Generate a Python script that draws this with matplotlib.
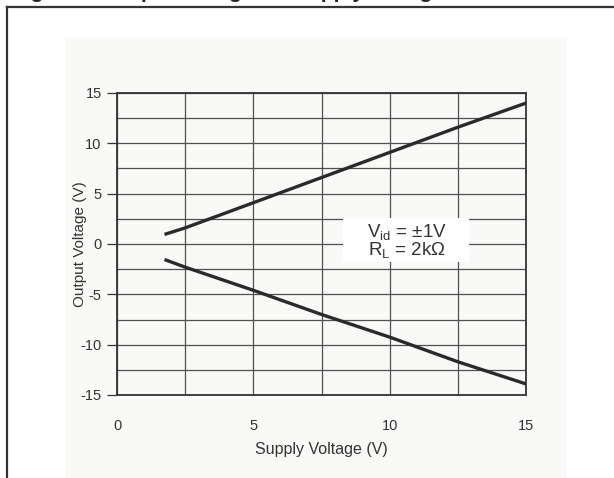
import matplotlib
matplotlib.use("Agg")
import matplotlib.pyplot as plt
from matplotlib.patches import Rectangle
from matplotlib.lines import Line2D
import numpy as np

plt.rcParams['font.family'] = ['Liberation Sans', 'DejaVu Sans']
plt.rcParams['mathtext.default'] = 'regular'
plt.rcParams['axes.unicode_minus'] = False

# values
supply = [1.8, 2.5, 5.0, 7.5, 10.0, 12.5, 15.0]
vout_high = [1.0, 1.6, 4.1, 6.6, 9.1, 11.6, 14.0]
vout_low = [-1.6, -2.3, -4.6, -7.0, -9.25, -11.7, -13.9]

x_ticks = [0, 5, 10, 15]
y_ticks = [-15, -10, -5, 0, 5, 10, 15]
minor_step = 2.5

W, H = 614, 478
fig = plt.figure(figsize=(W / 100, H / 100), dpi=100)
fig.patch.set_facecolor('white')

# light panel behind the chart
fig.patches.append(Rectangle((65 / W, 0), (567 - 65) / W, (H - 37) / H,
                             transform=fig.transFigure, facecolor='#f9f9f7',
                             edgecolor='none', zorder=0))

# page frame (left and top edges)
fig.lines.append(Line2D([7 / W, 7 / W], [0, 1 - 7 / H], transform=fig.transFigure,
                        color='#333333', lw=1.6, zorder=1))
fig.lines.append(Line2D([7 / W, 1], [1 - 7 / H, 1 - 7 / H], transform=fig.transFigure,
                        color='#333333', lw=1.6, zorder=1))

# figure caption, mostly cut off by the top edge like in the source page
fig.text(12 / W, 1 + 2 / H, 'Figure 5. Output Voltage vs. Supply Voltage',
         fontsize=15, fontweight='bold', color='#222222', va='baseline', ha='left')

ax = fig.add_axes([117 / W, (H - 395) / H, (526 - 117) / W, (395 - 93) / H])
ax.set_zorder(2)
ax.set_facecolor('#f9f9f7')

ax.set_xlim(0, 15)
ax.set_ylim(-15, 15)
ax.set_xticks(x_ticks)
ax.set_yticks(y_ticks)
ax.set_xticks(np.arange(0, 15.01, minor_step), minor=True)
ax.set_yticks(np.arange(-15, 15.01, minor_step), minor=True)
ax.grid(True, which='both', color='#505050', lw=0.9)
ax.set_axisbelow(True)

ax.tick_params(axis='x', which='both', length=0, pad=17, labelsize=10.5, labelcolor='#333333')
ax.tick_params(axis='y', which='major', length=7, width=0.9, color='#333333',
               pad=4, labelsize=10.5, labelcolor='#333333')
ax.tick_params(axis='y', which='minor', length=0)

for s in ax.spines.values():
    s.set_color('#333333')
    s.set_linewidth(1.3)

ax.plot(supply, vout_high, color='#2a2a2a', lw=2.4, zorder=3)
ax.plot(supply, vout_low, color='#2a2a2a', lw=2.4, zorder=3)

# white patch behind the condition note
ax.add_patch(Rectangle((8.3, -1.8), 4.6, 4.4, facecolor='white', edgecolor='none', zorder=2))
ax.text(10.65, 0.3, '$V_{id}$ = ±1V\n$R_L$ = 2kΩ', fontsize=13.5, color='#333333',
        ha='center', va='center', linespacing=0.9, zorder=4)

ax.set_xlabel('Supply Voltage (V)', fontsize=11.5, color='#333333', labelpad=7)
ax.set_ylabel('Output Voltage (V)', fontsize=11, color='#333333')
ax.yaxis.set_label_coords(-0.074, 0.5)

fig.savefig('out.png', dpi=100)
